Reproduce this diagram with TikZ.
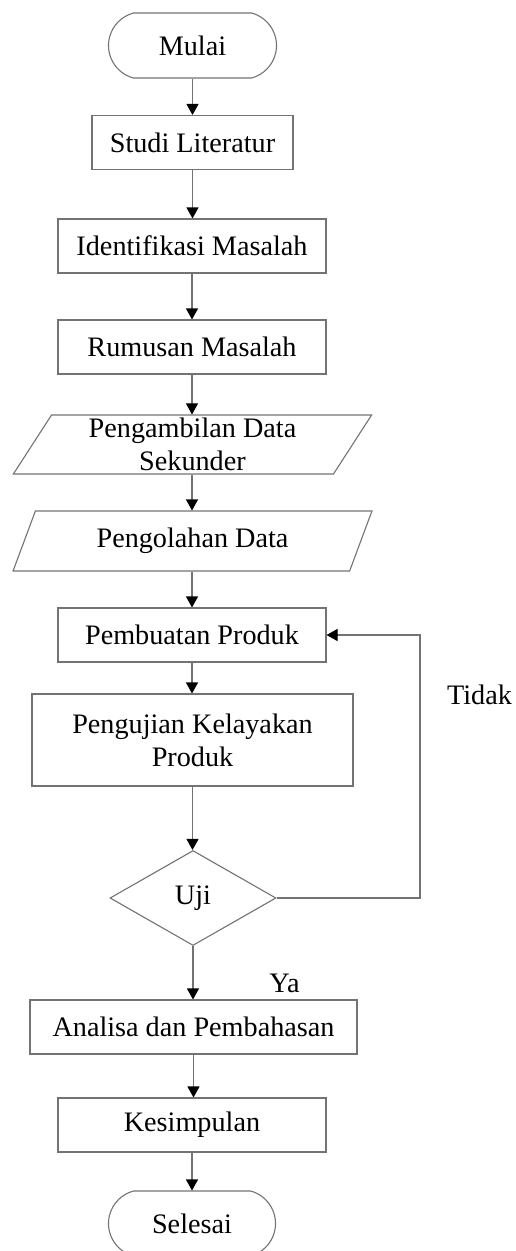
\documentclass[tikz,border=0pt]{standalone}
\usepackage{fontspec}
\setmainfont{Liberation Serif}
\usetikzlibrary{shapes.geometric,shapes.misc,arrows.meta}
\definecolor{edge}{RGB}{115,115,115}
\begin{document}
\begin{tikzpicture}[x=1pt,y=-1pt,
  font=\fontsize{28.2}{33}\selectfont,
  box/.style={draw=edge,line width=1.1pt,inner sep=0pt,align=center,text=black},
  terminal/.style={box,rounded rectangle,rounded rectangle arc length=150,
    minimum width=168pt,minimum height=65pt},
  process/.style={box,rectangle,minimum height=54pt},
  io/.style={box,trapezium,trapezium left angle=62,trapezium right angle=118,
    trapezium stretches=true,minimum width=359pt,minimum height=60pt},
  decision/.style={box,diamond,minimum width=166pt,minimum height=95pt},
  tag/.style={inner sep=0pt,text=black},
  flow/.style={draw=edge,line width=1.1pt,-{Triangle[width=12pt,length=11pt,color=black]}}]

\path[use as bounding box,clip] (0,0) rectangle (516,1251);

% steps of the flow
\node[terminal] (mulai) at (192.5,45.5) {Mulai};
\node[process,minimum width=201pt] (studi) at (192.5,142.5) {Studi Literatur};
\node[process,minimum width=268pt] (ident) at (192,246) {Identifikasi Masalah};
\node[process,minimum width=268pt] (rumus) at (192,347) {Rumusan Masalah};
\node[io,minimum height=59pt] (ambil) at (192.5,444.5) {Pengambilan Data\\Sekunder};
\node[io] (olah) at (192.5,541) {Pengolahan Data};
\node[process,minimum width=268pt] (buat) at (192,635) {Pembuatan Produk};
\node[process,minimum width=321pt,minimum height=92pt] (uji1) at (192.5,740) {Pengujian Kelayakan\\Produk};
\node[decision] (uji) at (193,898) {Uji};
\node[process,minimum width=327pt] (analisa) at (193.5,1027) {Analisa dan Pembahasan};
\node[process,minimum width=268pt] (simpul) at (192,1125) {Kesimpulan};
\node[terminal,minimum width=167pt] (selesai) at (192,1223.5) {Selesai};

% branch labels
\node[tag] (tidak) at (479.5,695) {Tidak};
\node[tag] (ya) at (284.5,983) {Ya};

% connectors
\draw[flow] (mulai.south) -- (mulai.south |- studi.north);
\draw[flow] (studi.south) -- (studi.south |- ident.north);
\draw[flow] (ident.south) -- (ident.south |- rumus.north);
\draw[flow] (rumus.south) -- (rumus.south |- ambil.north);
\draw[flow] (rumus.south |- ambil.south) -- (rumus.south |- olah.north);
\draw[flow] (rumus.south |- olah.south) -- (rumus.south |- buat.north);
\draw[flow] (buat.south) -- (buat.south |- uji1.north);
\draw[flow] (uji1.south) -- (uji1.south |- uji.north);
\draw[flow] (uji.south) -- (uji.south |- analisa.north);
\draw[flow] (analisa.south) -- (analisa.south |- simpul.north);
\draw[flow] (simpul.south) -- (simpul.south |- selesai.north);

% "Tidak" loop back to Pembuatan Produk
\coordinate (loop) at (420,635);
\draw[flow] (uji.east) -| (loop) -- (buat.east);
\end{tikzpicture}
\end{document}
